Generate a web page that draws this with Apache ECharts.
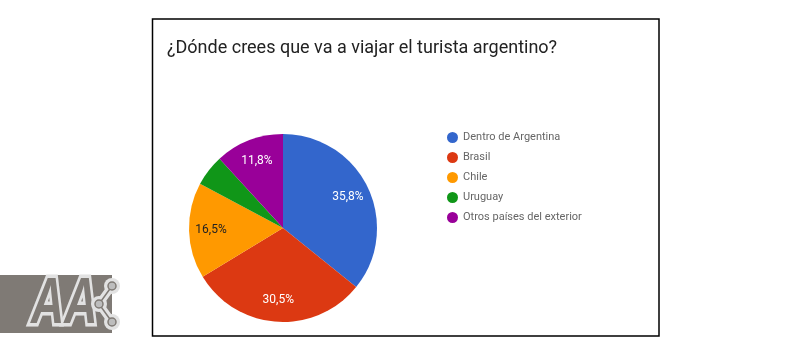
<!DOCTYPE html>
<html><head><meta charset="utf-8">
<script src="https://cdn.jsdelivr.net/npm/echarts@6/dist/echarts.min.js"></script>
<style>html,body{margin:0;padding:0;background:#fff}#c{width:785px;height:360px}</style>
</head><body><div id="c"></div>
<script>
const titleText = '¿Dónde crees que va a viajar el turista argentino?';
const categories = ['Dentro de Argentina', 'Brasil', 'Chile', 'Uruguay', 'Otros países del exterior'];
const values = [35.8, 30.5, 16.5, 5.4, 11.8];
const labels = ['35,8%', '30,5%', '16,5%', '', '11,8%'];
const colors = ['#3366cc', '#dc3912', '#ff9900', '#109618', '#990099'];
const labelColors = ['#fff', '#fff', '#222', '#fff', '#fff'];

const chart = echarts.init(document.getElementById('c'), null, {renderer: 'canvas'});
const pieData = categories.map((n, i) => ({name: n, value: values[i], itemStyle: {color: colors[i]}}));
const labelData = categories.map((n, i) => ({
  name: n, value: values[i],
  label: {show: labels[i] !== '', formatter: labels[i], color: labelColors[i]}
}));
const G = '#7f7a75', L = '#e2e2e2';
chart.setOption({
  animation: false,
  backgroundColor: '#fff',
  title: {
    text: titleText, left: 162, top: 34,
    textStyle: {fontFamily: 'Roboto', fontSize: 18, fontWeight: 'normal', color: '#222'}
  },
  legend: {
    orient: 'vertical', left: 442, top: 127,
    icon: 'circle', itemWidth: 11, itemHeight: 11, itemGap: 9, itemTextGap: 8,
    data: categories,
    textStyle: {fontFamily: 'Roboto', fontSize: 11, color: '#666', lineHeight: 11}
  },
  graphic: [
    {type: 'rect', shape: {x: 152.5, y: 19, width: 506.5, height: 317}, style: {fill: 'none', stroke: '#000', lineWidth: 1.5}, z: 10},
    {type: 'rect', shape: {x: 0, y: 275, width: 112, height: 58}, style: {fill: G}},
    {type: 'text', x: 31, y: 305, scaleX: 0.72, style: {x: 0, y: 0, text: 'AA', align: 'left', verticalAlign: 'middle', font: 'italic bold 64px "Liberation Sans"', fill: G, stroke: L, lineWidth: 7}},
    {type: 'polyline', shape: {points: [[112, 286], [99, 304], [112, 322]]}, style: {stroke: L, lineWidth: 8, fill: 'none', lineJoin: 'round'}},
    {type: 'circle', shape: {cx: 112, cy: 286, r: 8}, style: {fill: L}},
    {type: 'circle', shape: {cx: 99, cy: 304, r: 8}, style: {fill: L}},
    {type: 'circle', shape: {cx: 112, cy: 322, r: 8}, style: {fill: L}},
    {type: 'polyline', shape: {points: [[112, 286], [99, 304], [112, 322]]}, style: {stroke: G, lineWidth: 1.5, fill: 'none'}},
    {type: 'circle', shape: {cx: 112, cy: 286, r: 4}, style: {fill: '#bdbdbd', stroke: G, lineWidth: 1.5}},
    {type: 'circle', shape: {cx: 99, cy: 304, r: 4}, style: {fill: '#bdbdbd', stroke: G, lineWidth: 1.5}},
    {type: 'circle', shape: {cx: 112, cy: 322, r: 4}, style: {fill: '#bdbdbd', stroke: G, lineWidth: 1.5}}
  ],
  series: [
    {
      type: 'pie', center: [283, 228], radius: [0, 94], startAngle: 90, clockwise: true,
      label: {show: false}, labelLine: {show: false}, silent: true,
      itemStyle: {borderWidth: 0},
      data: pieData
    },
    {
      type: 'pie', center: [283, 228], radius: [44, 94], startAngle: 90, clockwise: true,
      silent: true, legendHoverLink: false,
      itemStyle: {color: 'rgba(0,0,0,0)', borderWidth: 0},
      label: {position: 'inside', fontFamily: 'Roboto', fontSize: 12},
      labelLine: {show: false},
      data: labelData
    }
  ]
});
</script></body></html>
